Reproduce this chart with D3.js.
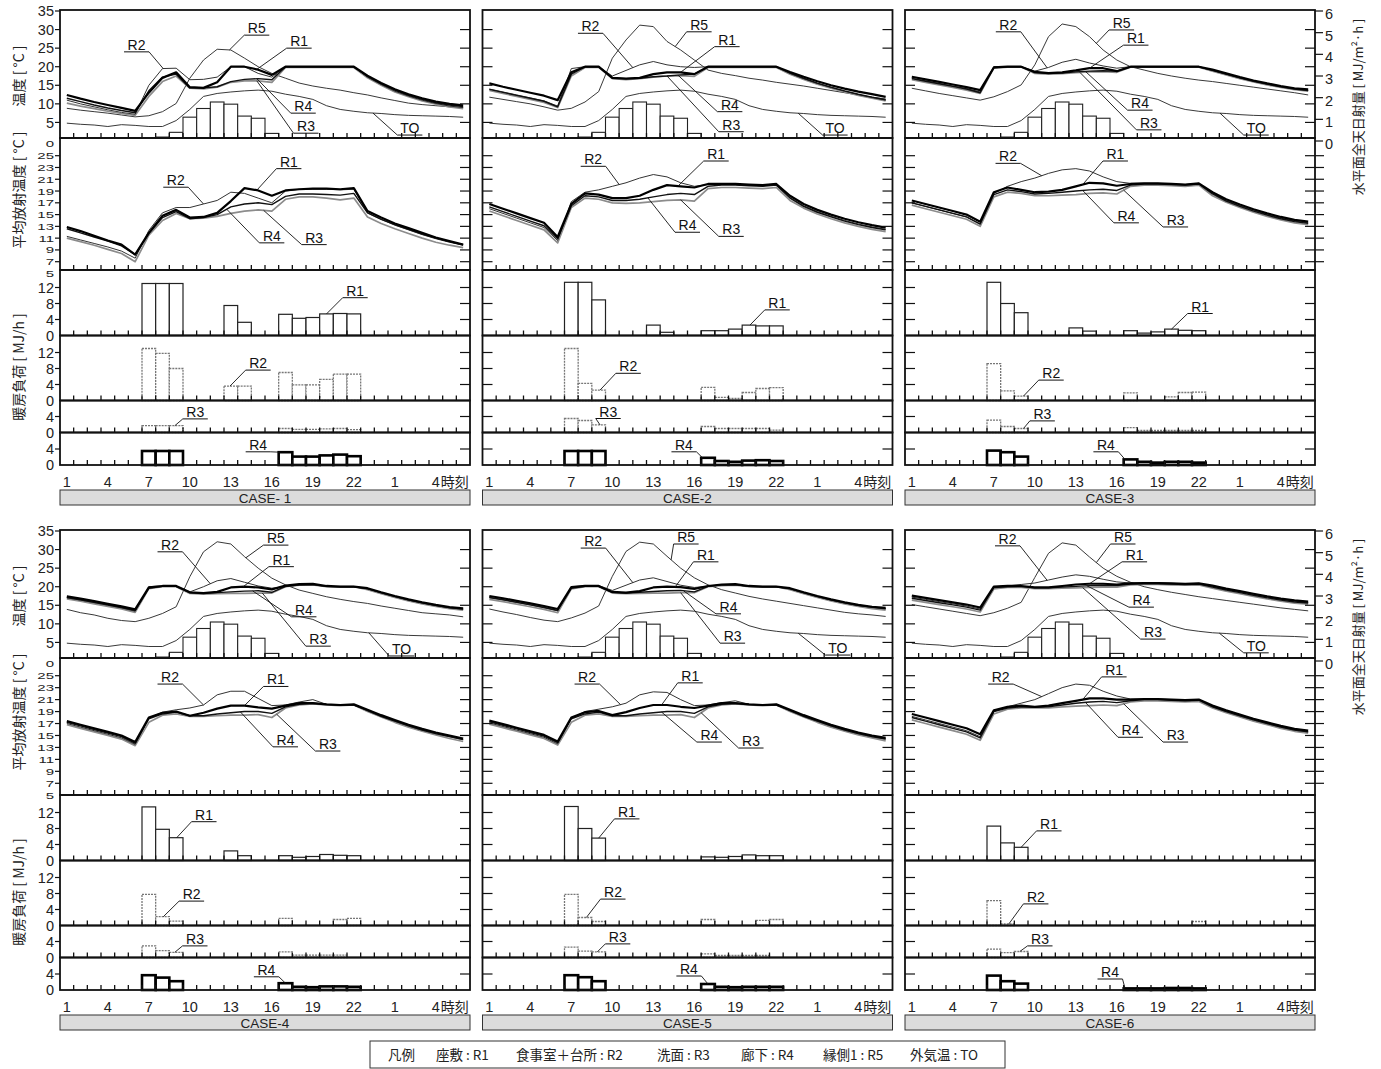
<!DOCTYPE html>
<html><head><meta charset="utf-8">
<script src="https://cdn.jsdelivr.net/npm/d3@7"></script>
<style>body{margin:0;background:#fff}</style>
</head><body><script>
// ---------------- DATA ----------------
const hours = d3.range(1, 31);
const xTickHours = [1,4,7,10,13,16,19,22,25,28];
const xTickLabels = ['1','4','7','10','13','16','19','22','1','4'];
const loadHours = [7,8,9,13,14,17,18,19,20,21,22];
const caseNames = ['CASE- 1','CASE-2','CASE-3','CASE-4','CASE-5','CASE-6'];
const seriesNames = ['R1','R2','R3','R4','R5'];
const legendItems = ['凡例','座敷 : R1','食事室＋台所 : R2','洗面 : R3','廊下 : R4','縁側1 : R5','外気温 : TO'];

// horizontal global solar radiation [MJ/m2 h] (same for all cases)
const solar = [0,0,0,0,0,0,0,0.2,0.4,1.1,1.5,1.8,1.7,1.15,1.05,0.35,0,0,0,0,0,0,0,0,0,0,0,0,0,0];
// outdoor temperature TO
const outdoorTO = [4.8,4.5,4.3,3.9,4.4,4.2,3.9,3.9,5.5,8.5,12.0,12.8,13.2,13.5,13.7,13.4,12.6,12.0,11.2,9.5,8.5,8.0,7.6,7.4,7.1,6.9,6.8,6.7,6.6,6.4];

// room temperatures
const c1T1 = [12.4,11.4,10.5,9.7,8.9,8.1,13.0,17.0,18.5,14.5,14.3,15.8,20,20,19.2,17.8,20,20,20,20,20,20,17.6,15.6,13.9,12.6,11.5,10.6,10.0,9.6];
const c1T2 = [11.0,10.0,9.2,8.4,7.7,7.2,15.0,19.5,19.6,16.5,16.6,17.2,20,20,18.2,17.2,20,20,20,20,20,20,17.2,15.2,13.4,12.1,11.0,10.1,9.4,9.0];
const c1T3 = [10.2,9.4,8.7,8.0,7.4,6.9,12.0,16.0,17.5,14.2,14.0,14.5,15.8,16.2,16.2,15.8,19.8,19.8,19.8,19.8,19.8,19.8,17.0,15.0,13.2,11.9,10.8,9.9,9.2,8.7];
const c1T4 = [11.5,10.6,9.7,8.9,8.2,7.6,13.5,17.2,18.0,14.3,14.3,14.6,16.0,16.6,16.8,16.5,20,20,20,20,20,20,17.4,15.4,13.7,12.3,11.2,10.3,9.7,9.3];
const c1T5 = [8.8,8.3,7.9,7.5,7.0,6.5,6.8,7.9,10.1,16.9,21.8,24.7,24.5,22.3,20.0,18.2,16.9,15.6,14.8,14.2,13.7,13.0,12.4,11.6,10.9,10.2,9.8,9.5,9.2,9.0];

const c2T1 = [15.5,14.6,13.8,13.0,12.2,11.0,18.5,20,20,17.0,16.8,17.0,18.0,18.5,18.5,18.0,20,20,20,20,20,20,18.6,17.3,16.1,15.0,14.1,13.3,12.6,11.9];
const c2T2 = [14.0,13.2,12.4,11.6,10.8,9.4,19.5,20,20,17.5,19.0,20.5,21.4,20.5,20.0,19.8,20,20,20,20,20,20,18.2,16.8,15.5,14.4,13.4,12.5,11.7,11.0];
const c2T3 = [13.6,12.8,12.0,11.2,10.4,9.0,17.5,19.8,19.8,16.8,16.5,16.8,17.2,17.5,17.6,17.4,19.8,19.8,19.8,19.8,19.8,19.8,18.0,16.6,15.3,14.2,13.2,12.3,11.5,10.8];
const c2T4 = [13.9,13.1,12.3,11.5,10.7,9.2,18.0,20,20,17.0,16.8,16.9,17.3,17.5,17.8,18.0,20,20,20,20,20,20,18.3,16.9,15.6,14.5,13.5,12.6,11.8,11.1];
const c2T5 = [11.8,11.2,10.6,10.0,9.2,8.3,8.8,10.5,13.3,22.3,27.2,31.2,30.8,26.8,24.5,21.8,19.1,18.2,17.6,16.9,16.4,15.8,15.3,14.8,14.2,13.6,13.0,12.4,11.8,11.3];

const c3T1 = [17.3,16.6,15.9,15.2,14.5,13.7,19.8,20,20,18.6,18.3,18.5,19.0,19.6,19.6,18.8,20,20,20,20,20,20,19.2,18.2,17.2,16.3,15.5,14.8,14.2,13.9];
const c3T2 = [16.9,16.2,15.5,14.8,14.1,13.2,20,20,20,18.8,19.8,21.2,22.0,21.0,20.2,19.6,20,20,20,20,20,20,19.0,18.0,17.0,16.1,15.3,14.6,14.0,13.6];
const c3T3 = [16.5,15.8,15.1,14.4,13.7,12.8,19.6,19.9,19.9,18.2,18.0,18.1,18.4,18.6,18.7,18.5,19.9,19.9,19.9,19.9,19.9,19.9,18.8,17.8,16.8,15.9,15.1,14.4,13.8,13.4];
const c3T4 = [16.8,16.1,15.4,14.7,14.0,13.0,19.8,20,20,18.4,18.2,18.3,18.6,18.8,18.9,18.8,20,20,20,20,20,20,19.0,18.0,17.0,16.1,15.3,14.6,14.0,13.6];
const c3T5 = [14.2,13.5,12.8,12.2,11.6,11.0,11.9,13.3,15.1,20.5,28.1,31.5,30.8,28.1,24.5,21.8,20.0,19.1,18.2,17.5,16.9,16.4,16.0,15.5,15.0,14.5,14.0,13.5,13.0,12.4];

const c4T1 = [17.4,16.8,16.1,15.4,14.7,13.9,19.8,20.2,20.2,18.5,18.3,18.6,19.8,20.0,19.8,19.3,20.3,20.7,20.8,20.2,20,20,19.6,18.5,17.5,16.6,15.8,15.1,14.5,14.2];
const c4T2 = [17.0,16.4,15.7,15.0,14.3,13.4,20,20.2,20.2,18.6,20.0,21.6,22.2,21.2,20.2,19.6,20,20.4,20.5,20,20,20,19.4,18.3,17.3,16.4,15.6,14.9,14.3,13.9];
const c4T3 = [16.7,16.1,15.4,14.7,14.0,13.1,19.5,20,20,18.2,18.0,18.1,18.2,18.2,18.3,18.3,20,20.4,20.5,20,20,20,19.2,18.1,17.1,16.2,15.4,14.7,14.1,13.7];
const c4T4 = [17.1,16.5,15.8,15.1,14.4,13.6,19.6,20.1,20.1,18.4,18.2,18.4,18.6,18.8,18.9,18.5,20.1,20.5,20.6,20.1,20,20,19.5,18.4,17.4,16.5,15.7,15.0,14.4,14.0];
const c4T5 = [13.9,13.0,12.4,11.5,10.9,10.6,11.5,12.8,14.6,22.7,29.4,32.1,31.5,28.1,25.0,22.3,20.5,19.1,18.2,17.3,16.6,16.0,15.5,14.8,14.2,13.6,13.0,12.7,12.4,11.9];

const c5T1 = [17.5,16.9,16.2,15.5,14.8,14.0,19.9,20.2,20.2,18.6,18.4,18.8,19.8,20.0,19.9,19.4,20.2,20.6,20.7,20.2,20,20,19.6,18.5,17.5,16.6,15.8,15.1,14.6,14.3];
const c5T2 = [17.1,16.5,15.8,15.1,14.4,13.5,20,20.2,20.3,19.0,20.4,21.8,22.4,21.4,20.4,19.8,20.1,20.4,20.5,20,20,20,19.4,18.3,17.3,16.4,15.6,14.9,14.4,14.0];
const c5T3 = [16.6,16.0,15.3,14.6,13.9,13.0,19.4,20,20,18.3,18.1,18.2,18.3,18.3,18.4,18.4,20,20.3,20.4,20,20,20,19.2,18.1,17.1,16.2,15.4,14.7,14.1,13.7];
const c5T4 = [17.1,16.5,15.8,15.1,14.4,13.6,19.6,20.1,20.1,18.5,18.3,18.5,18.7,18.9,19.0,18.6,20.1,20.5,20.6,20.1,20,20,19.5,18.4,17.4,16.5,15.7,15.0,14.5,14.1];
const c5T5 = [14.0,13.2,12.5,11.7,11.0,10.6,11.6,12.9,14.8,22.8,29.5,32.0,31.5,28.2,25.0,22.4,20.5,19.2,18.3,17.4,16.7,16.1,15.5,14.9,14.3,13.7,13.1,12.7,12.4,12.0];

const c6T1 = [17.6,17.0,16.4,15.8,15.2,14.4,20.0,20.2,20.2,19.8,19.8,20.2,20.6,20.8,20.8,20.6,20.9,21.0,21.0,20.9,20.8,20.9,20.3,19.5,18.8,18.1,17.4,16.8,16.3,16.0];
const c6T2 = [17.2,16.6,16.0,15.4,14.8,14.0,20.0,20.2,20.6,21.0,21.8,22.6,23.2,22.8,22.0,21.3,21.0,21.0,21.0,20.9,20.8,20.9,20.1,19.3,18.6,17.9,17.2,16.6,16.1,15.8];
const c6T3 = [16.4,15.8,15.2,14.6,14.0,13.2,19.4,19.8,19.8,19.5,19.5,19.6,19.7,19.8,19.9,19.9,20.5,20.6,20.6,20.5,20.4,20.5,19.6,18.8,18.1,17.4,16.7,16.1,15.6,15.3];
const c6T4 = [16.9,16.3,15.7,15.1,14.5,13.7,19.8,20.0,20.1,19.7,19.7,19.9,20.1,20.3,20.4,20.3,20.7,20.8,20.8,20.7,20.6,20.7,19.9,19.1,18.4,17.7,17.0,16.4,15.9,15.6];
const c6T5 = [15.2,14.6,14.0,13.4,12.8,12.2,13.0,14.2,15.8,22.5,29.0,31.8,31.2,28.0,25.0,22.8,21.2,20.0,19.2,18.5,17.9,17.3,16.8,16.3,15.8,15.3,14.8,14.3,13.9,13.5];

// mean radiant temperatures
const c1M1 = [12.9,12.2,11.4,10.6,9.9,8.2,11.9,14.8,15.8,14.5,14.6,15.3,17.3,19.5,19.1,18.2,19.1,19.3,19.4,19.4,19.3,19.5,15.6,14.5,13.5,12.7,11.9,11.1,10.5,9.9];
const c1M2 = [11.3,10.7,10.1,9.5,8.8,7.6,12.3,15.3,16.2,16.2,16.8,17.4,18.8,18.6,17.8,17.0,19.0,19.3,19.3,19.3,19.2,19.3,15.3,14.2,13.2,12.4,11.6,10.9,10.3,9.8];
const c1M3 = [11.0,10.4,9.8,9.1,8.4,7.0,11.5,14.0,15.2,14.3,14.4,14.7,15.2,15.6,15.8,15.6,17.6,18.0,18.0,17.8,17.5,17.8,14.6,13.5,12.6,11.8,11.0,10.3,9.8,9.4];
const c1M4 = [12.6,11.9,11.2,10.5,9.7,8.2,11.8,14.5,15.5,14.3,14.5,15.0,16.3,16.8,17.0,16.7,18.1,18.5,18.5,18.4,18.3,18.6,15.3,14.2,13.3,12.5,11.7,11.0,10.4,9.9];

const c2M1 = [16.8,16.0,15.2,14.4,13.6,11.2,16.8,18.6,18.4,17.8,17.8,18.2,19.2,20.0,19.8,19.6,20.2,20.2,20.2,20.1,20.0,20.2,18.2,16.8,15.8,15.0,14.3,13.7,13.2,12.8];
const c2M2 = [16.0,15.2,14.4,13.6,12.8,10.6,17.2,18.8,19.2,19.8,20.4,21.2,21.8,21.4,20.4,19.8,20.1,20.1,20.1,20.0,19.9,20.1,17.9,16.5,15.5,14.7,14.0,13.4,12.9,12.5];
const c2M3 = [15.6,14.8,14.0,13.2,12.4,10.2,16.2,17.8,17.6,17.0,16.9,17.0,17.2,17.4,17.5,17.3,19.4,19.6,19.6,19.5,19.4,19.6,17.4,16.1,15.1,14.3,13.6,13.0,12.5,12.1];
const c2M4 = [16.3,15.5,14.7,13.9,13.1,10.9,16.5,18.2,18.0,17.4,17.4,17.6,18.0,18.4,18.6,18.4,19.8,20.0,20.0,19.9,19.8,20.0,17.8,16.4,15.4,14.6,13.9,13.3,12.8,12.4];

const c3M1 = [17.4,16.8,16.2,15.6,15.0,13.8,18.8,19.6,19.2,18.8,18.9,19.2,19.8,20.4,20.3,19.9,20.2,20.3,20.3,20.2,20.1,20.3,18.8,17.6,16.7,15.9,15.2,14.6,14.1,13.8];
const c3M2 = [17.0,16.4,15.8,15.2,14.6,13.4,18.6,19.8,20.6,21.2,22.0,22.6,22.8,22.4,21.4,20.6,20.3,20.3,20.3,20.2,20.1,20.3,18.6,17.4,16.5,15.7,15.0,14.4,13.9,13.6];
const c3M3 = [16.6,16.0,15.4,14.8,14.2,13.0,18.0,18.8,18.6,18.2,18.2,18.3,18.4,18.6,18.7,18.5,19.8,20.0,20.0,19.9,19.8,20.0,18.2,17.1,16.2,15.4,14.7,14.1,13.6,13.3];
const c3M4 = [17.0,16.4,15.8,15.2,14.6,13.4,18.4,19.2,18.9,18.5,18.6,18.8,19.0,19.2,19.3,19.1,20.0,20.2,20.2,20.1,20.0,20.2,18.5,17.3,16.4,15.6,14.9,14.3,13.8,13.5];

const c4M1 = [17.4,16.8,16.2,15.6,15.0,13.9,18.0,18.8,19.0,18.3,18.8,19.5,20.0,20.0,19.7,19.5,20.0,20.4,20.4,20.2,20.1,20.2,19.3,18.4,17.6,16.8,16.1,15.5,15.0,14.5];
const c4M2 = [17.0,16.4,15.8,15.2,14.6,13.5,17.9,18.9,19.3,19.6,20.1,21.8,22.4,22.4,21.2,20.0,20.1,20.6,21.0,20.2,20.1,20.2,19.1,18.2,17.4,16.6,15.9,15.3,14.8,14.3];
const c4M3 = [16.8,16.2,15.6,15.0,14.4,13.3,17.2,18.4,18.6,18.2,18.2,18.3,18.4,18.4,18.5,18.0,19.6,20.1,20.3,20.1,20.0,20.1,19.0,18.1,17.2,16.4,15.7,15.1,14.5,14.0];
const c4M4 = [17.2,16.6,16.0,15.4,14.8,13.7,17.8,18.6,18.9,18.3,18.3,18.6,18.8,19.0,19.0,18.7,19.8,20.2,20.4,20.2,20.1,20.1,19.2,18.2,17.4,16.6,15.9,15.3,14.8,14.3];

const c5M1 = [17.5,16.9,16.3,15.7,15.1,14.0,18.0,18.9,19.1,18.4,18.9,19.6,20.1,20.1,19.8,19.6,20.0,20.4,20.4,20.2,20.1,20.2,19.3,18.4,17.6,16.8,16.1,15.5,15.0,14.6];
const c5M2 = [17.1,16.5,15.9,15.3,14.7,13.6,17.9,19.0,19.4,19.8,20.4,21.8,22.3,22.2,21.0,20.0,20.1,20.5,20.8,20.2,20.1,20.2,19.1,18.2,17.4,16.6,15.9,15.3,14.8,14.4];
const c5M3 = [16.9,16.3,15.7,15.1,14.5,13.4,17.2,18.4,18.6,18.2,18.2,18.3,18.4,18.4,18.5,18.0,19.6,20.1,20.3,20.1,20.0,20.1,19.0,18.1,17.2,16.4,15.7,15.1,14.6,14.1];
const c5M4 = [17.3,16.7,16.1,15.5,14.9,13.8,17.8,18.6,18.9,18.3,18.3,18.6,18.8,19.0,19.0,18.7,19.8,20.2,20.4,20.2,20.1,20.1,19.2,18.2,17.4,16.6,15.9,15.3,14.8,14.4];

const c6M1 = [18.6,18.0,17.4,16.8,16.2,15.2,19.2,19.8,20.0,19.8,20.0,20.4,20.8,21.2,21.2,21.0,21.0,21.1,21.1,21.0,20.9,21.0,20.0,19.2,18.5,17.8,17.2,16.6,16.1,15.8];
const c6M2 = [18.2,17.6,17.0,16.4,15.8,14.8,19.0,19.8,20.4,21.0,22.0,23.0,23.6,23.4,22.4,21.6,21.1,21.1,21.1,21.0,20.9,21.0,19.8,19.0,18.3,17.6,17.0,16.4,15.9,15.6];
const c6M3 = [17.6,17.0,16.4,15.8,15.2,14.2,18.6,19.4,19.6,19.6,19.6,19.8,19.9,20.0,20.1,20.0,20.6,20.8,20.8,20.7,20.6,20.7,19.6,18.8,18.1,17.4,16.8,16.2,15.7,15.4];
const c6M4 = [18.0,17.4,16.8,16.2,15.6,14.6,19.0,19.6,19.8,19.7,19.8,20.1,20.4,20.6,20.7,20.5,20.8,21.0,21.0,20.9,20.8,20.9,19.8,19.0,18.3,17.6,17.0,16.4,15.9,15.6];

// heating loads [MJ/h] at loadHours
const c1L1 = [13,13,13,7.5,3.3,5.3,4.3,4.5,5.4,5.5,5.4];
const c1L2 = [13,11.8,8.0,3.6,3.6,7.0,3.9,3.9,5.3,6.6,6.6];
const c1L3 = [1.7,1.7,1.7,0,0,1.0,0.8,0.8,0.9,1.0,0.7];
const c1L4 = [3.5,3.5,3.5,0,0,3.2,2.1,2.1,2.4,2.6,2.2];
const c2L1 = [13.3,13.3,8.9,2.6,0.8,1.2,1.2,1.6,2.6,2.4,2.4];
const c2L2 = [13,4.3,2.6,0,0,3.3,0.8,0.5,2.0,3.0,3.2];
const c2L3 = [3.5,3.0,1.9,0,0,1.5,1.0,1.0,1.0,1.0,0.6];
const c2L4 = [3.5,3.5,3.5,0,0,1.8,1.0,0.8,1.1,1.2,1.0];
const c3L1 = [13.3,8.0,5.7,1.9,1.1,1.2,0.6,0.9,1.6,1.3,1.2];
const c3L2 = [9.2,2.4,1.1,0,0,1.9,0,0,0.9,2.0,2.1];
const c3L3 = [3.1,1.5,1.0,0,0,1.2,0.5,0.5,0.5,0.5,0.5];
const c3L4 = [3.6,3.2,2.1,0,0,1.4,0.8,0.6,0.8,0.8,0.6];
const c4L1 = [13.4,7.8,5.7,2.4,1.2,1.2,0.8,1.0,1.5,1.3,1.2];
const c4L2 = [7.8,2.2,1.1,0,0,1.8,0,0,0,1.5,1.8];
const c4L3 = [2.9,1.7,1.3,0,0,1.4,0.6,0.6,0.6,0.6,0];
const c4L4 = [3.7,3.1,2.2,0,0,1.7,0.8,0.7,0.9,0.9,0.8];
const c5L1 = [13.5,8.0,5.6,0,0,0.9,0.8,1.0,1.4,1.2,1.2];
const c5L2 = [7.8,2.0,1.0,0,0,1.5,0,0,0,1.3,1.5];
const c5L3 = [2.6,1.6,1.4,0,0,0.9,0.5,0.5,0.5,0.5,0];
const c5L4 = [3.7,3.2,2.2,0,0,1.5,0.8,0.7,0.8,0.8,0.8];
const c6L1 = [8.6,4.4,3.3,0,0,0,0,0,0,0,0];
const c6L2 = [6.2,0.4,0,0,0,0,0,0,0,0,1.0];
const c6L3 = [2.1,1.2,1.5,0,0,0,0,0,0,0,0];
const c6L4 = [3.6,2.2,1.6,0,0,0.4,0.4,0.4,0.5,0.5,0.4];

// annotation labels: [name, label hour, label value, target hour]
const c1TNotes = [['R2',6.1,24.0,8.05],['R5',14.9,28.5,12.9],['R1',18.0,25.0,14.9],['R4',18.3,7.5,14.9],['R3',18.5,2.1,14.9],['TO',26.1,1.6,23.4]];
const c2TNotes = [['R2',8.4,29.0,11.5],['R5',16.35,29.4,14.6],['R1',18.4,25.4,15.0],['R4',18.6,7.9,14.8],['R3',18.7,2.5,14.0],['TO',26.3,1.6,23.6]];
const c3TNotes = [['R2',8.06,29.4,10.9],['R5',16.35,29.9,14.5],['R1',17.4,25.8,14.0],['R4',17.7,8.3,13.7],['R3',18.35,3.0,13.3],['TO',26.2,1.6,23.55]];
const c4TNotes = [['R2',8.55,29.4,11.5],['R5',16.3,31.2,14.1],['R1',16.7,25.4,13.9],['R4',18.35,11.9,14.6],['R3',19.4,4.0,15.3],['TO',25.5,1.35,23.1]];
const c5TNotes = [['R2',8.6,30.4,11.5],['R5',15.4,31.5,14.3],['R1',16.85,26.7,14.6],['R4',18.5,12.7,15.2],['R3',18.8,4.8,15.0],['TO',26.5,1.6,23.6]];
const c6TNotes = [['R2',8.0,31.0,10.9],['R5',16.45,31.5,14.5],['R1',17.3,26.7,14.0],['R4',17.8,14.5,13.8],['R3',18.65,5.9,13.5],['TO',26.2,2.2,23.5]];

const c1MNotes = [['R1',17.25,22.8,14.9],['R2',8.97,19.65,11.0],['R4',16.0,10.2,12.7],['R3',19.1,9.9,15.4]];
const c2MNotes = [['R2',8.6,23.2,10.5],['R1',17.6,24.1,14.8],['R4',15.5,12.0,12.6],['R3',18.7,11.3,15.0]];
const c3MNotes = [['R2',8.04,23.7,10.5],['R1',15.9,24.1,13.5],['R4',16.7,13.6,13.5],['R3',20.3,12.9,16.5]];
const c4MNotes = [['R2',8.55,23.6,11.0],['R1',16.3,23.2,14.0],['R4',17.0,13.1,13.7],['R3',20.1,12.4,16.35]];
const c5MNotes = [['R2',8.15,23.6,10.6],['R1',15.7,23.8,13.6],['R4',17.1,13.9,13.6],['R3',20.15,12.9,16.5]];
const c6MNotes = [['R2',7.5,23.6,10.5],['R1',15.8,24.8,13.5],['R4',17.0,14.7,13.7],['R3',20.3,13.9,16.5]];

const c1LNotes = [['R1',22.1,9.45,20.0],['R2',15.0,7.6,12.94],['R3',10.4,3.4,8.9],['R4',15.0,3.3,16.6]];
const c2LNotes = [['R1',22.07,6.4,20.07],['R2',11.17,6.8,9.1],['R3',9.7,3.5,9.1],['R4',15.24,3.3,16.6]];
const c3LNotes = [['R1',22.1,5.5,20.0],['R2',11.2,5.1,9.17],['R3',10.55,2.9,9.17],['R4',15.2,3.3,16.6]];
const c4LNotes = [['R1',11.04,9.7,9.04],['R2',10.13,6.1,8.06],['R3',10.38,2.9,8.9],['R4',15.6,3.3,17.0]];
const c5LNotes = [['R1',11.07,10.4,9.0],['R2',10.05,6.6,8.1],['R3',10.4,3.4,8.9],['R4',15.6,3.5,17.0]];
const c6LNotes = [['R1',11.04,7.4,9.0],['R2',10.08,5.4,8.1],['R3',10.38,2.9,8.9],['R4',15.5,2.75,16.6]];

// ---------------- BUILD TABLES ----------------
const tempTable = [[c1T1,c1T2,c1T3,c1T4,c1T5],[c2T1,c2T2,c2T3,c2T4,c2T5],[c3T1,c3T2,c3T3,c3T4,c3T5],
                   [c4T1,c4T2,c4T3,c4T4,c4T5],[c5T1,c5T2,c5T3,c5T4,c5T5],[c6T1,c6T2,c6T3,c6T4,c6T5]];
const mrtTable = [[c1M1,c1M2,c1M3,c1M4],[c2M1,c2M2,c2M3,c2M4],[c3M1,c3M2,c3M3,c3M4],
                  [c4M1,c4M2,c4M3,c4M4],[c5M1,c5M2,c5M3,c5M4],[c6M1,c6M2,c6M3,c6M4]];
const loadTable = [[c1L1,c1L2,c1L3,c1L4],[c2L1,c2L2,c2L3,c2L4],[c3L1,c3L2,c3L3,c3L4],
                   [c4L1,c4L2,c4L3,c4L4],[c5L1,c5L2,c5L3,c5L4],[c6L1,c6L2,c6L3,c6L4]];
const tNotes = [c1TNotes,c2TNotes,c3TNotes,c4TNotes,c5TNotes,c6TNotes];
const mNotes = [c1MNotes,c2MNotes,c3MNotes,c4MNotes,c5MNotes,c6MNotes];
const lNotes = [c1LNotes,c2LNotes,c3LNotes,c4LNotes,c5LNotes,c6LNotes];

// ---------------- LAYOUT / STYLE ----------------
const FONT = '"Liberation Sans", Arial, "Noto Sans CJK JP", sans-serif';
const CJK = '"Noto Sans CJK JP", "Liberation Sans", sans-serif';
const colX = [60, 482.5, 905], colW = 410;
const rowSpecs = [
  {tTop:10, tBot:138, t0:141, t35:11, mBot:270, m7:261.7, m25:155.7,
   lTop:[270,335.5,400.5,432.5], lZero:[335.5,400.5,432.5,465], xLab:487, boxY:490, yLab:[76,190,367], rLab:107},
  {tTop:530, tBot:658, t0:661, t35:531, mBot:795, m7:783.3, m25:675.7,
   lTop:[795,860.5,925.5,957.5], lZero:[860.5,925.5,957.5,990], xLab:1012, boxY:1015, yLab:[596,712,892], rLab:627}
];
const lineStyle = {
  TO:{c:'#222',w:0.9}, R5:{c:'#222',w:0.9}, R3:{c:'#8c8c8c',w:1.7},
  R2:{c:'#333',w:1.0}, R4:{c:'#111',w:1.4}, R1:{c:'#000',w:2.2}
};
const barStyle = [
  {c:'#222',w:1.2,d:null},{c:'#777',w:1.3,d:'2,1'},{c:'#777',w:1.3,d:'2,1'},{c:'#000',w:2.6,d:null}
];

const svg = d3.select('body').append('svg').attr('width',1381).attr('height',1069)
  .style('display','block').style('font-family',FONT);

function interp(series, h){
  const i = Math.floor(h), f = h - i;
  const a = series[Math.max(0,Math.min(29,i-1))], b = series[Math.max(0,Math.min(29,i))];
  return a + (b-a)*f;
}
function note(g, x, y, n, tv){
  const cx = x(n[1]), cy = y(n[2]), half = 12.5;
  const tX = x(n[3]), tY = y(tv);
  const sx = tX < cx ? cx-half : cx+half;
  g.append('line').attr('x1',cx-half).attr('x2',cx+half).attr('y1',cy).attr('y2',cy)
    .attr('stroke','#111').attr('stroke-width',1);
  g.append('line').attr('x1',sx).attr('y1',cy).attr('x2',tX).attr('y2',tY)
    .attr('stroke','#111').attr('stroke-width',0.9);
  g.append('text').attr('x',cx).attr('y',cy-2).attr('text-anchor','middle')
    .attr('font-size',14).attr('fill','#111').text(n[0]);
}

function drawCase(ci){
  const row = rowSpecs[Math.floor(ci/3)], col = ci % 3, x0 = colX[col];
  const x = d3.scaleLinear().domain([0.5,30.5]).range([x0, x0+colW]);
  const yT = d3.scaleLinear().domain([0,35]).range([row.t0,row.t35]);
  const yS = d3.scaleLinear().domain([0,6]).range([row.t0,row.t35]);
  const yM = d3.scaleLinear().domain([7,25]).range([row.m7,row.m25]);
  const yL = row.lZero.map(z => d3.scaleLinear().domain([0,4]).range([z,z-16]));
  const g = svg.append('g');

  const panels = [
    {top:row.tTop, bot:row.tBot, y:yT, ticks:[5,10,15,20,25,30], labels:[5,10,15,20,25,30,35], lt:[5,10,15,20,25,30,35], fs:14.5},
    {top:row.tBot, bot:row.mBot, y:yM, ticks:d3.range(7,26,2), labels:d3.range(5,26,2), lt:d3.range(7,26,2), fs:15, squeeze:0.66},
    {top:row.lTop[0], bot:row.lZero[0], y:yL[0], ticks:[4,8,12], labels:[0,4,8,12], lt:[4,8,12], fs:14.5},
    {top:row.lTop[1], bot:row.lZero[1], y:yL[1], ticks:[4,8,12], labels:[0,4,8,12], lt:[4,8,12], fs:14.5},
    {top:row.lTop[2], bot:row.lZero[2], y:yL[2], ticks:[4], labels:[0,4], lt:[4], fs:14.5},
    {top:row.lTop[3], bot:row.lZero[3], y:yL[3], ticks:[4], labels:[0,4], lt:[4], fs:14.5}
  ];
  panels.forEach(p => g.append('rect').attr('x',x0).attr('y',p.top).attr('width',colW)
      .attr('height',p.bot-p.top).attr('fill','#fff'));

  // solar bars
  const sBot = Math.min(row.tBot, yS(0));
  g.append('g').selectAll('rect').data(hours.filter((h,i)=>solar[i]>0)).join('rect')
    .attr('x', h => x(h-0.5)).attr('width', h => x(h+0.5)-x(h-0.5))
    .attr('y', h => yS(solar[h-1])).attr('height', h => Math.max(0.5, sBot - yS(solar[h-1])))
    .attr('fill','#fff').attr('stroke', h => solar[h-1] < 0.3 ? '#888' : '#222').attr('stroke-width',1.1);

  // temperature lines
  const temps = tempTable[ci];
  const tLines = [['TO',outdoorTO],['R5',temps[4]],['R3',temps[2]],['R2',temps[1]],['R4',temps[3]],['R1',temps[0]]];
  tLines.forEach(([n,s]) => {
    g.append('path').datum(s).attr('fill','none').attr('stroke',lineStyle[n].c)
      .attr('stroke-width',lineStyle[n].w).attr('stroke-linejoin','round')
      .attr('d', d3.line().x((d,i)=>x(hours[i])).y(d=>yT(d)));
  });
  // MRT lines
  const mrts = mrtTable[ci];
  [['R3',mrts[2]],['R2',mrts[1]],['R4',mrts[3]],['R1',mrts[0]]].forEach(([n,s]) => {
    g.append('path').datum(s).attr('fill','none').attr('stroke',lineStyle[n].c)
      .attr('stroke-width',lineStyle[n].w).attr('stroke-linejoin','round')
      .attr('d', d3.line().x((d,i)=>x(hours[i])).y(d=>yM(d)));
  });
  // load bars
  loadTable[ci].forEach((arr, k) => {
    const st = barStyle[k];
    g.append('g').selectAll('rect').data(loadHours.map((h,i)=>[h,arr[i]]).filter(d=>d[1]>0)).join('rect')
      .attr('x', d => x(d[0]-0.5)).attr('width', d => x(d[0]+0.5)-x(d[0]-0.5))
      .attr('y', d => yL[k](d[1])).attr('height', d => yL[k](0)-yL[k](d[1]))
      .attr('fill','#fff').attr('stroke',st.c).attr('stroke-width',st.w)
      .attr('stroke-dasharray',st.d);
  });

  // ticks
  const boundaries = d3.range(1.5, 30, 1);
  panels.forEach(p => {
    g.append('g').selectAll('line').data(boundaries).join('line')
      .attr('x1',d=>x(d)).attr('x2',d=>x(d)).attr('y1',p.bot).attr('y2',p.bot-5)
      .attr('stroke','#111').attr('stroke-width',1.3);
    g.append('g').selectAll('line').data(p.ticks).join('line')
      .attr('x1',x0+colW).attr('x2',x0+colW-10).attr('y1',d=>p.y(d)).attr('y2',d=>p.y(d))
      .attr('stroke','#111').attr('stroke-width',1.2);
    if (col > 0) {
      g.append('g').selectAll('line').data(p.ticks).join('line')
        .attr('x1',x0).attr('x2',x0+10).attr('y1',d=>p.y(d)).attr('y2',d=>p.y(d))
        .attr('stroke','#111').attr('stroke-width',1.2);
    } else {
      g.append('g').selectAll('line').data(p.lt).join('line')
        .attr('x1',x0).attr('x2',x0-5).attr('y1',d=>p.y(d)).attr('y2',d=>p.y(d))
        .attr('stroke','#111').attr('stroke-width',1.2);
      const sq = p.squeeze || 1;
      g.append('g').selectAll('text').data(p.labels).join('text')
        .attr('transform', d => `translate(${x0-6},${p.y(d)}) scale(1,${sq})`)
        .attr('dy','0.35em').attr('text-anchor','end')
        .attr('font-size', p.fs).attr('fill','#222').text(d=>d);
    }
  });
  if (col === 0) {
    // the "0" of the temperature axis, squeezed in just under the panel
    g.append('text').attr('transform',`translate(${x0-6},${yT(0)+3}) scale(1,0.66)`)
      .attr('dy','0.35em').attr('text-anchor','end').attr('font-size',15).attr('fill','#222').text('0');
  }
  if (col === 2) {
    const xr = x0 + colW;
    g.append('g').selectAll('line').data(d3.range(0,7)).join('line')
      .attr('x1',xr).attr('x2',xr+8).attr('y1',d=>yS(d)).attr('y2',d=>yS(d))
      .attr('stroke','#111').attr('stroke-width',1.2);
    g.append('g').selectAll('text').data(d3.range(0,7)).join('text')
      .attr('x',xr+10).attr('y',d=>yS(d)+3).attr('dy','0.35em').attr('font-size',14.5)
      .attr('fill','#222').text(d=>d);
    g.append('g').selectAll('line').data(d3.range(7,26,2)).join('line')
      .attr('x1',xr).attr('x2',xr+9).attr('y1',d=>yM(d)).attr('y2',d=>yM(d))
      .attr('stroke','#111').attr('stroke-width',1.2);
    g.append('text').attr('transform',`translate(${xr+43},${row.rLab}) rotate(-90)`)
      .attr('text-anchor','middle').attr('dy','0.35em').attr('font-size',13)
      .attr('font-family',CJK).attr('fill','#222').text('水平面全天日射量 [ MJ/m²·h ]');
  }

  // frames
  panels.forEach(p => g.append('rect').attr('x',x0).attr('y',p.top).attr('width',colW)
      .attr('height',p.bot-p.top).attr('fill','none').attr('stroke','#111').attr('stroke-width',1.8));

  // annotations
  tNotes[ci].forEach(n => {
    const s = n[0]==='TO' ? outdoorTO : temps[seriesNames.indexOf(n[0])];
    note(g, x, yT, n, interp(s, n[3]));
  });
  mNotes[ci].forEach(n => note(g, x, yM, n, interp(mrts[seriesNames.indexOf(n[0])], n[3])));
  lNotes[ci].forEach(n => {
    const k = seriesNames.indexOf(n[0]);
    const idx = loadHours.indexOf(Math.round(n[3]));
    note(g, x, yL[k], n, idx >= 0 ? loadTable[ci][k][idx] : 0);
  });

  // x labels
  g.append('g').selectAll('text').data(xTickHours).join('text')
    .attr('x',d=>x(d)).attr('y',row.xLab).attr('text-anchor','middle').attr('font-size',14.5)
    .attr('fill','#222').text((d,i)=>xTickLabels[i]);
  g.append('text').attr('x',x(28)+5).attr('y',row.xLab).attr('font-size',14)
    .attr('font-family',CJK).attr('fill','#222').text('時刻');

  // case box
  g.append('rect').attr('x',x0).attr('y',row.boxY).attr('width',colW).attr('height',15)
    .attr('fill','#dcdcdc').attr('stroke','#333').attr('stroke-width',1);
  g.append('text').attr('x',x0+colW/2).attr('y',row.boxY+13).attr('text-anchor','middle')
    .attr('font-size',13.5).attr('fill','#222').text(caseNames[ci]);

  // left axis titles
  if (col === 0) {
    const titles = ['温度 [ °C ]','平均放射温度 [ °C ]','暖房負荷 [ MJ/h ]'];
    titles.forEach((t,i) => g.append('text')
      .attr('transform',`translate(19,${row.yLab[i]}) rotate(-90)`)
      .attr('text-anchor','middle').attr('dy','0.35em').attr('font-size',14)
      .attr('font-family',CJK).attr('fill','#222').text(t));
  }
}
d3.range(6).forEach(drawCase);

// legend
svg.append('rect').attr('x',370).attr('y',1041).attr('width',635).attr('height',27)
  .attr('fill','#fff').attr('stroke','#333').attr('stroke-width',1);
const legendX = [388,436,516,657,741,823,910];
svg.append('g').selectAll('text').data(legendItems).join('text')
  .attr('x',(d,i)=>legendX[i]).attr('y',1060).attr('font-size',13.5)
  .attr('font-family',CJK).attr('fill','#222').text(d=>d);
</script></body></html>
